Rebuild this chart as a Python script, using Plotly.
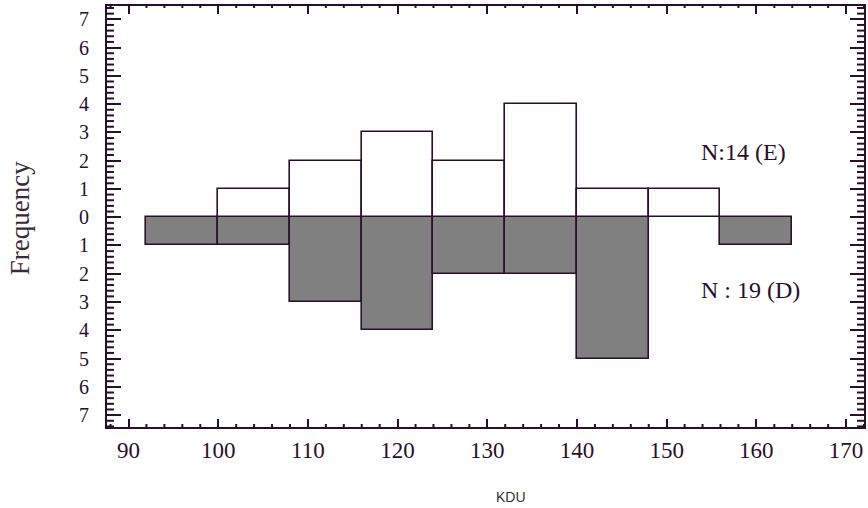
import plotly.graph_objects as go

# Histogram bins of KDU (width 8) and counts for the two groups
bin_left = [92, 100, 108, 116, 124, 132, 140, 148, 156]
bin_width = 8
freq_e = [0, 1, 2, 3, 2, 4, 1, 1, 0]   # N = 14 (E), drawn upward
freq_d = [1, 1, 3, 4, 2, 2, 5, 0, 1]   # N = 19 (D), drawn downward

y_ticks = list(range(-7, 8))
y_tick_text = [str(abs(v)) for v in y_ticks]
x_ticks = [90, 100, 110, 120, 130, 140, 150, 160, 170]

x_range = [87.6, 172]
y_range = [-7.42, 7.47]

ink = "#2a0f2a"
serif = "Liberation Serif, Times New Roman, serif"

centers = [b + bin_width / 2 for b in bin_left]

# minor tick positions: every 2 KDU, every 0.2 on frequency
x_minor = [v for v in range(88, 173, 2) if v % 10 != 0]
y_minor = [round(-7.4 + 0.2 * i, 1) for i in range(75)]
y_minor = [v for v in y_minor
           if abs(v - round(v)) > 1e-6 and y_range[0] <= v <= y_range[1]]

# plot area in pixels
W, H = 868, 508
L, R, T, B = 107, 2, 6, 81
PW, PH = W - L - R, H - T - B
ux = (x_range[1] - x_range[0]) / PW   # data units per pixel, x
uy = (y_range[1] - y_range[0]) / PH   # data units per pixel, y


def px_to_paper(px, py):
    return (px - L) / PW, 1 - (py - T) / PH


fig = go.Figure()
fig.add_trace(go.Bar(
    x=[c for c, v in zip(centers, freq_d) if v > 0],
    y=[-v for v in freq_d if v > 0],
    width=bin_width,
    marker=dict(color="#808080", line=dict(color=ink, width=1.6)),
    showlegend=False,
))
fig.add_trace(go.Bar(
    x=[c for c, v in zip(centers, freq_e) if v > 0],
    y=[v for v in freq_e if v > 0],
    width=bin_width,
    marker=dict(color="white", line=dict(color=ink, width=1.6)),
    showlegend=False,
))

# minor tick marks on all four sides, drawn inward
tx, ty = [], []
for v in x_minor:
    tx += [v, v, None, v, v, None]
    ty += [y_range[0], y_range[0] + 3 * uy, None, y_range[1], y_range[1] - 2 * uy, None]
for v in y_minor:
    tx += [x_range[0], x_range[0] + 7 * ux, None, x_range[1], x_range[1] - 7 * ux, None]
    ty += [v, v, None, v, v, None]
fig.add_trace(go.Scatter(
    x=tx, y=ty, mode="lines", line=dict(color=ink, width=2),
    hoverinfo="skip", showlegend=False, cliponaxis=False,
))

fx, fy = px_to_paper(20, 218)
kx, ky = px_to_paper(512, 497)

fig.update_layout(
    width=W, height=H,
    margin=dict(l=L, r=R, t=T, b=B),
    paper_bgcolor="white", plot_bgcolor="white",
    barmode="overlay",
    bargap=0,
    xaxis=dict(
        range=x_range, tickvals=x_ticks,
        ticks="inside", ticklen=8, tickwidth=2, tickcolor=ink,
        showline=True, linecolor=ink, linewidth=2, mirror="ticks",
        showgrid=False, zeroline=False,
        tickfont=dict(family=serif, size=23, color=ink),
        ticklabelstandoff=1,
    ),
    yaxis=dict(
        range=y_range, tickvals=y_ticks, ticktext=y_tick_text,
        ticks="inside", ticklen=14, tickwidth=2, tickcolor=ink,
        showline=True, linecolor=ink, linewidth=2, mirror="ticks",
        showgrid=False, zeroline=False,
        tickfont=dict(family=serif, size=20, color=ink),
        ticklabelstandoff=12,
    ),
    annotations=[
        dict(text="N:14 (E)", x=158.6, y=2.29, xref="x", yref="y", showarrow=False,
             font=dict(family=serif, size=24, color=ink)),
        dict(text="N : 19 (D)", x=159.4, y=-2.59, xref="x", yref="y", showarrow=False,
             font=dict(family=serif, size=24, color=ink)),
        dict(text="Frequency", x=fx, y=fy, xref="paper", yref="paper", showarrow=False,
             xanchor="center", yanchor="middle",
             textangle=-90, font=dict(family=serif, size=27, color="#3a2a3a")),
        dict(text="KDU", x=kx, y=ky, xref="paper", yref="paper", showarrow=False,
             xanchor="center", yanchor="middle",
             font=dict(family="Liberation Sans, Arial, sans-serif", size=14, color="#333333")),
    ],
)

fig.write_html("out.html")
